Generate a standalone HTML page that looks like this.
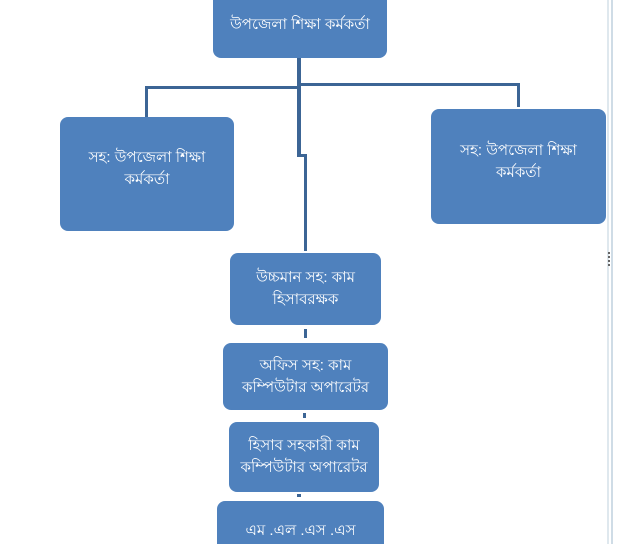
<!DOCTYPE html>
<html style="width:618px;height:544px;overflow:hidden;margin:0"><head><meta charset="utf-8"><style>
body{margin:0;width:618px;height:544px;background:#fff;position:relative;overflow:hidden;font-family:"Liberation Sans","Noto Sans CJK SC",sans-serif}
.b{position:absolute;background:#4f81bd;border-radius:8px;color:#fff;font-size:15px;display:flex;align-items:center;justify-content:center;text-align:center;line-height:22px}
.l{position:absolute;background:#3c6595}
</style></head><body>
<div class="l" style="left:297px;top:58px;width:4px;height:98px"></div>
<div class="l" style="left:297px;top:154px;width:10px;height:3px"></div>
<div class="l" style="left:304px;top:155px;width:3px;height:96px"></div>
<div class="l" style="left:145px;top:86px;width:154px;height:3px"></div>
<div class="l" style="left:145px;top:86px;width:3px;height:32px"></div>
<div class="l" style="left:299px;top:83px;width:221px;height:3px"></div>
<div class="l" style="left:517px;top:83px;width:3px;height:24px"></div>
<div class="l" style="left:304px;top:329px;width:3px;height:9px"></div>
<div class="l" style="left:303px;top:413px;width:3px;height:5px"></div>
<div class="l" style="left:297px;top:494px;width:4px;height:3px"></div>
<div class="b" style="left:213px;top:-8px;width:174px;height:66px">উপজেলা শিক্ষা কর্মকর্তা</div>
<div class="b" style="left:60px;top:117px;width:174px;height:114px;padding-bottom:10px;box-sizing:border-box">সহ: উপজেলা শিক্ষা<br>কর্মকর্তা</div>
<div class="b" style="left:431px;top:109px;width:175px;height:115px;padding-bottom:10px;box-sizing:border-box">সহ: উপজেলা শিক্ষা<br>কর্মকর্তা</div>
<div class="b" style="left:230px;top:253px;width:151px;height:72px">উচ্চমান সহ: কাম<br>হিসাবরক্ষক</div>
<div class="b" style="left:223px;top:343px;width:165px;height:67px">অফিস সহ: কাম<br>কম্পিউটার অপারেটর</div>
<div class="b" style="left:229px;top:422px;width:150px;height:70px">হিসাব সহকারী কাম<br>কম্পিউটার অপারেটর</div>
<div class="b" style="left:217px;top:501px;width:167px;height:43px;border-radius:8px 8px 0 0;align-items:flex-start;padding-top:19px;box-sizing:border-box">এম .এল .এস .এস</div>
<div style="position:absolute;left:607px;top:0;width:2px;height:544px;background:#dfe8ee"></div>
<div style="position:absolute;left:611px;top:0;width:2px;height:544px;background:#cfdce6"></div>
<div style="position:absolute;left:608px;top:252px;width:2px;height:14px;border-left:2px dotted #666"></div>
</body></html>
